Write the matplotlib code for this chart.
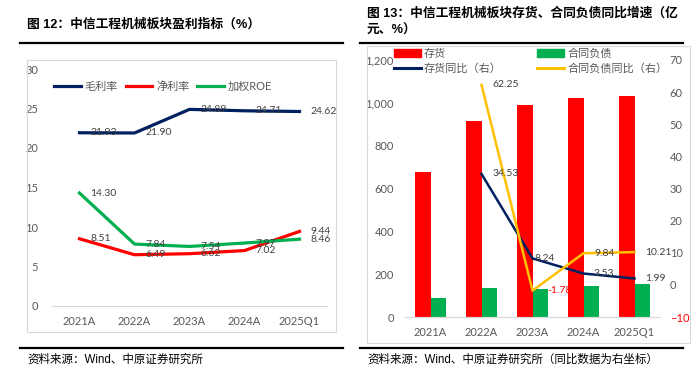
import matplotlib
matplotlib.use("Agg")
import matplotlib.pyplot as plt
from matplotlib.lines import Line2D
from matplotlib.patches import Rectangle, Patch

plt.rcParams['font.family'] = ['Lato', 'Noto Sans CJK SC', 'DejaVu Sans']

# data
categories = ['2021A', '2022A', '2023A', '2024A', '2025Q1']
gross_margin = [21.93, 21.90, 24.89, 24.71, 24.62]
net_margin = [8.51, 6.49, 6.62, 7.02, 9.44]
weighted_roe = [14.30, 7.84, 7.54, 7.97, 8.46]

inventory = [677, 915, 990, 1023, 1031]
contract_liab = [89, 135, 133, 146, 153]
inventory_yoy = [None, 34.53, 8.24, 3.53, 1.99]
contract_yoy = [None, 62.25, -1.78, 9.84, 10.21]

NAVY = '#002060'
RED = '#FF0000'
GREEN = '#00B050'
YELLOW = '#FFC000'
GRAY = '#595959'
LBL = '#404040'

W, H = 700, 372
fig = plt.figure(figsize=(7.0, 3.72), dpi=100)


def fx(x):
    return x / W


def fy(y):
    return 1 - y / H


def box(x0, y0, x1, y1):
    return [fx(x0), fy(y1), fx(x1) - fx(x0), fy(y0) - fy(y1)]


def hrule(x0, x1, y, lw=1.6, color='black'):
    fig.add_artist(Line2D([fx(x0), fx(x1)], [fy(y), fy(y)], color=color, lw=lw))


def frame(x0, y0, x1, y1):
    fig.add_artist(Rectangle((fx(x0), fy(y1)), fx(x1) - fx(x0), fy(y0) - fy(y1),
                             fill=False, edgecolor='#D9D9D9', lw=0.8))


title_font = dict(family=['Liberation Sans', 'Noto Sans CJK SC'], weight='bold',
                  fontsize=9.2, color='black')
src_font = dict(family=['Liberation Sans', 'Noto Sans CJK SC'], fontsize=8.3, color='black')

# ---------------- left panel ----------------
fig.text(fx(27), fy(25), '图 12：中信工程机械板块盈利指标（%）', va='center', **title_font)
hrule(20, 343, 43)
frame(27, 60, 336, 332)
hrule(20, 343, 348)
fig.text(fx(27), fy(360), '资料来源：Wind、中原证券研究所', va='center', **src_font)

ax1 = fig.add_axes(box(52, 69, 327, 306))
x = list(range(len(categories)))
ax1.plot(x, gross_margin, color=NAVY, lw=2.3, label='毛利率')
ax1.plot(x, net_margin, color=RED, lw=2.3, label='净利率')
ax1.plot(x, weighted_roe, color=GREEN, lw=2.3, label='加权ROE')
for series in (gross_margin, net_margin, weighted_roe):
    for i, v in enumerate(series):
        ax1.annotate(f'{v:.2f}', (i, v), xytext=(8, 0), textcoords='offset points',
                     va='center', ha='left', fontsize=7.5, color=LBL)
ax1.set_xlim(-0.5, 4.5)
ax1.set_ylim(0, 30)
ax1.set_yticks(range(0, 31, 5))
ax1.set_xticks(x)
ax1.set_xticklabels(categories)
for s in ('top', 'right', 'left'):
    ax1.spines[s].set_visible(False)
ax1.spines['bottom'].set_color('#D9D9D9')
ax1.tick_params(length=0, labelsize=8, colors=GRAY)
ax1.tick_params(axis='y', pad=10)
ax1.tick_params(axis='x', pad=7)
ax1.patch.set_alpha(0)
ax1.legend(loc='upper left', bbox_to_anchor=(fx(54), fy(81)), bbox_transform=fig.transFigure,
           ncol=3, frameon=False, fontsize=8, handlelength=2.4, handletextpad=0.35,
           columnspacing=0.7, labelcolor=GRAY, borderaxespad=0, borderpad=0)

# ---------------- right panel ----------------
fig.text(fx(367), fy(13), '图 13：中信工程机械板块存货、合同负债同比增速（亿', va='center', **title_font)
fig.text(fx(367), fy(31), '元、%）', va='center', **title_font)
hrule(360, 683, 43)
frame(367, 46, 690, 343)
hrule(360, 683, 348)
fig.text(fx(367), fy(360), '资料来源：Wind、中原证券研究所（同比数据为右坐标）', va='center', **src_font)

ax2 = fig.add_axes(box(405, 60, 660, 317))
bw = 0.3
ax2.bar([i - bw / 2 for i in x], inventory, width=bw, color=RED, label='存货')
ax2.bar([i + bw / 2 for i in x], contract_liab, width=bw, color=GREEN, label='合同负债')
ax2.set_xlim(-0.5, 4.5)
ax2.set_ylim(0, 1200)
ax2.set_yticks(range(0, 1201, 200))
ax2.set_yticklabels([f'{v:,}' for v in range(0, 1201, 200)])
ax2.set_xticks(x)
ax2.set_xticklabels(categories)

ax3 = ax2.twinx()
xs = x[1:]
ax3.plot(xs, inventory_yoy[1:], color=NAVY, lw=1.8, label='存货同比（右）')
ax3.plot(xs, contract_yoy[1:], color=YELLOW, lw=1.8, label='合同负债同比（右）')
inv_off = [8, 8, 1.5, 7.5, 8]
con_off = [8, 8, 11, 8, 8]
for i, v in enumerate(inventory_yoy):
    if v is not None:
        ax3.annotate(f'{v:.2f}', (i, v), xytext=(inv_off[i], 0), textcoords='offset points',
                     va='center', ha='left', fontsize=7.5, color=LBL)
for i, v in enumerate(contract_yoy):
    if v is not None:
        ax3.annotate(f'{v:.2f}', (i, v), xytext=(con_off[i], 0), textcoords='offset points',
                     va='center', ha='left', fontsize=7.5, color=RED if v < 0 else LBL)
ax3.set_ylim(-10, 70)
ax3.set_yticks(range(-10, 71, 10))

for a in (ax2, ax3):
    for s in ('top', 'right', 'left'):
        a.spines[s].set_visible(False)
    a.spines['bottom'].set_color('#D9D9D9')
    a.tick_params(length=0, labelsize=8, colors=GRAY)
ax2.tick_params(axis='y', pad=8)
ax2.tick_params(axis='x', pad=7)
ax3.tick_params(axis='y', pad=7)
for lab in ax3.get_yticklabels():
    if lab.get_text().startswith('−') or lab.get_text().startswith('-'):
        lab.set_color(RED)

handles = [Patch(color=RED), Line2D([], [], color=NAVY, lw=2.2),
           Patch(color=GREEN), Line2D([], [], color=YELLOW, lw=2.2)]
labels = ['存货', '存货同比（右）', '合同负债', '合同负债同比（右）']
ax2.legend(handles, labels, loc='upper left', bbox_to_anchor=(fx(394), fy(48)),
           bbox_transform=fig.transFigure, ncol=2, frameon=False, fontsize=8,
           handlelength=2.4, handleheight=0.7, handletextpad=0.3, columnspacing=3.2,
           labelspacing=0.35, labelcolor=GRAY, borderaxespad=0, borderpad=0)

fig.savefig('out.png', dpi=100)
